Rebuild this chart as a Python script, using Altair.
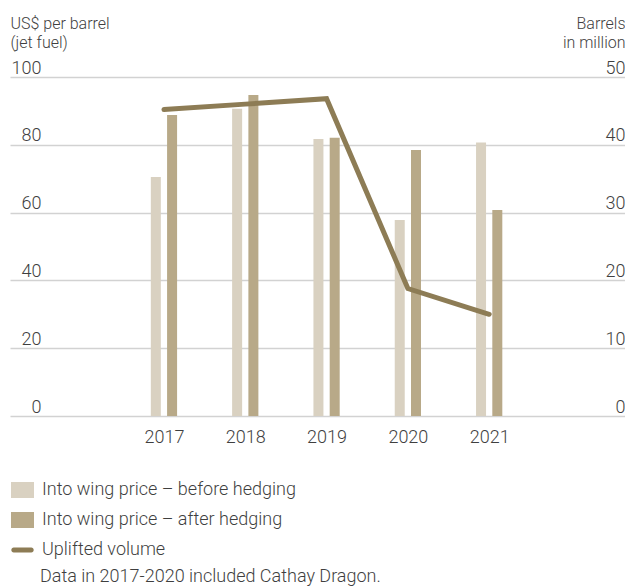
import altair as alt
import pandas as pd

# ---- data ----
years = [2017, 2018, 2019, 2020, 2021]
before_hedging = [70.5, 90.6, 81.7, 57.8, 80.7]   # US$ per barrel
after_hedging = [88.8, 94.7, 82.1, 78.5, 60.8]    # US$ per barrel
uplifted_volume = [45.2, 46.0, 46.8, 18.8, 15.0]  # barrels in million

series_before = "Into wing price – before hedging"
series_after = "Into wing price – after hedging"
series_line = "Uplifted volume"
left_ticks = [0, 20, 40, 60, 80, 100]
right_ticks = [0, 10, 20, 30, 40, 50]
left_title = ["US$ per barrel", "(jet fuel)"]
right_title = ["Barrels", "in million"]
note = "Data in 2017-2020 included Cathay Dragon."

# ---- styles ----
C_BEFORE = "#d9d1c1"
C_AFTER = "#b8a988"
C_LINE = "#8d7c55"
TXT = "#3f3f3f"
GRID = "#d2d2d2"
FONT = "Roboto"
W, H = 615, 339

bars_df = pd.DataFrame({
    "year": years * 2,
    "series": [series_before] * len(years) + [series_after] * len(years),
    "price": before_hedging + after_hedging,
})
line_df = pd.DataFrame({
    "year": years,
    "volume": uplifted_volume,
    "series": [series_line] * len(years),
})

xscale = alt.Scale(domain=[2015.168, 2022.609], nice=False, zero=False)
x_axis = alt.Axis(values=years, format="d", title=None, grid=False, domain=False,
                  ticks=False, tickSize=0, labelFontSize=18, labelPadding=26,
                  labelBaseline="alphabetic", labelColor=TXT, labelFont=FONT,
                  labelFontWeight=300)

left_axis = alt.Axis(orient="left", values=left_ticks, grid=True, gridColor=GRID,
                     gridWidth=1.5, domain=False, ticks=False, tickSize=0,
                     labelAlign="right", labelPadding=-31, labelBaseline="alphabetic",
                     labelOffset=-4, labelFontSize=18, labelColor=TXT, labelFont=FONT,
                     labelFontWeight=300,
                     title=left_title, titleAngle=0, titleAlign="left",
                     titleBaseline="alphabetic", titleX=0, titleY=-49,
                     titleFontSize=16, titleFontWeight=300, titleColor=TXT,
                     titleFont=FONT, titleLineHeight=19)

right_axis = alt.Axis(orient="right", values=right_ticks, grid=False, domain=False,
                      ticks=False, tickSize=0, labelAlign="right", labelPadding=0,
                      labelBaseline="alphabetic", labelOffset=-4, labelFontSize=18,
                      labelColor=TXT, labelFont=FONT, labelFontWeight=300,
                      title=right_title, titleAngle=0, titleAlign="right",
                      titleBaseline="alphabetic", titleX=0, titleY=-49,
                      titleFontSize=16, titleFontWeight=300, titleColor=TXT,
                      titleFont=FONT, titleLineHeight=19)

bar_legend = alt.Legend(title=None, orient="none", legendX=3.5, legendY=404,
                        symbolType="M-1.44,-1H1.44V1H-1.44Z", symbolSize=256,
                        symbolStrokeWidth=0, labelFontSize=18, labelOffset=10.5,
                        rowPadding=12, labelColor=TXT, labelFont=FONT,
                        labelFontWeight=300, labelLimit=500, padding=0)

line_legend = alt.Legend(title=None, orient="none", legendX=3.5, legendY=464,
                         symbolType="M-1.1,-0.3H1.1A0.3,0.3 0 0 1 1.1,0.3H-1.1A0.3,0.3 0 0 1 -1.1,-0.3Z",
                         symbolSize=256, symbolFillColor=C_LINE, symbolStrokeWidth=0,
                         labelFontSize=18, labelOffset=10.5, labelColor=TXT,
                         labelFont=FONT, labelFontWeight=300, labelLimit=500,
                         padding=0)

bars = alt.Chart(bars_df).transform_calculate(
    xpos="datum.year + (indexof(datum.series, 'before') >= 0 ? -0.1 : 0.1)"
).mark_bar(size=10).encode(
    x=alt.X("xpos:Q", scale=xscale, axis=x_axis),
    y=alt.Y("price:Q", scale=alt.Scale(domain=[0, 100], nice=False), axis=left_axis),
    color=alt.Color("series:N",
                    scale=alt.Scale(domain=[series_before, series_after],
                                    range=[C_BEFORE, C_AFTER]),
                    legend=bar_legend),
)

line = alt.Chart(line_df).mark_line(strokeWidth=5, strokeCap="round").encode(
    x=alt.X("year:Q", scale=xscale, axis=x_axis),
    y=alt.Y("volume:Q", scale=alt.Scale(domain=[0, 50], nice=False), axis=right_axis),
    stroke=alt.Stroke("series:N",
                      scale=alt.Scale(domain=[series_line], range=[C_LINE]),
                      legend=line_legend),
)

chart = alt.layer(bars, line).resolve_scale(y="independent").properties(
    width=W, height=H,
    autosize=alt.AutoSizeParams(type="none"),
    padding={"left": 2, "top": 69, "right": 0, "bottom": 174},
    title=alt.TitleParams(note, orient="bottom", anchor="start", dx=30, offset=9,
                          fontSize=18, fontWeight=300, color=TXT, font=FONT),
).configure_view(stroke=None)

chart.save("out.html", embed_options={"renderer": "svg", "actions": False})
